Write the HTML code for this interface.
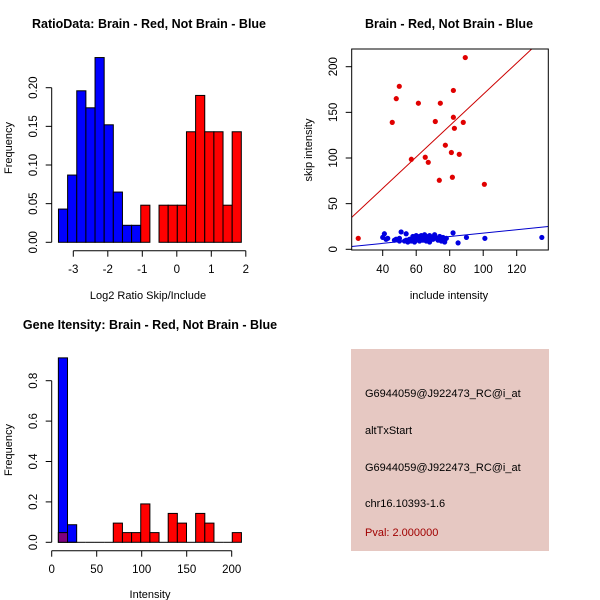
<!DOCTYPE html>
<html><head><meta charset="utf-8">
<style>
body{margin:0;background:#fff;}
svg{display:block;font-family:"Liberation Sans",Arial,sans-serif;}
text{fill:#000;}
</style></head>
<body>
<svg id="c" width="600" height="600" viewBox="0 0 600 600" xmlns="http://www.w3.org/2000/svg">
<rect width="600" height="600" fill="#fff"/>
<text x="149" y="28" font-size="12.5" font-weight="bold" text-anchor="middle">RatioData: Brain - Red, Not Brain - Blue</text>
<text x="449" y="28" font-size="12.5" font-weight="bold" text-anchor="middle">Brain - Red, Not Brain - Blue</text>
<text x="150" y="329" font-size="12.5" font-weight="bold" text-anchor="middle">Gene Itensity: Brain - Red, Not Brain - Blue</text>
<g id="p1"></g>
<g id="p2"></g>
<g id="p3"></g>
<g>
<rect x="351" y="349" width="198" height="202" fill="#E6C8C2"/>
<text x="365" y="397" font-size="11">G6944059@J922473_RC@i_at</text>
<text x="365" y="434" font-size="11">altTxStart</text>
<text x="365" y="471" font-size="11">G6944059@J922473_RC@i_at</text>
<text x="365" y="507" font-size="11">chr16.10393-1.6</text>
<text x="365" y="536" font-size="11" fill="#A00000" style="fill:#A00000">Pval: 2.000000</text>
</g>
</svg>
<script>
// ---- Panel 1 data
const ratioStart = -3.43;
const ratioWidth = 0.265;
const ratioBlue = [0.043,0.087,0.196,0.174,0.239,0.152,0.065,0.022,0.022];
const ratioRed = [0.048,0,0.048,0.048,0.048,0.143,0.190,0.143,0.143,0.048,0.143];
const ratioXTicks = [-3,-2,-1,0,1,2];
const ratioYTicks = [0,0.05,0.10,0.15,0.20];
const ratioYLabels = ["0.00","0.05","0.10","0.15","0.20"];
// ---- Panel 2 data
const redX = [25.4,45.7,48.1,49.9,57.1,61.3,65.4,67.2,71.4,73.8,74.4,77.4,81,81.6,82.2,82.2,82.8,85.7,88.1,89.3,100.7];
const redY = [12,139,165,178.5,98.6,160,100.8,95.3,140,75.6,160,114,106,78.9,144.6,174,132.5,104,139,210,71.2];
const blueX = [40,41,42,43,47,48,50,50,51,53,54,54,55,56,57,58,58,59,60,60,61,61,62,62,63,63,64,64,65,65,66,66,67,68,68,69,70,71,72,73,74,75,76,77,78,82,85,90,101,135];
const blueY = [13,17,11,12,10,11,12,9,19,9,17,10,8,11,9,12,14,8,10,15,11,13,9,14,12,15,10,13,11,16,9,14,12,8,15,13,11,16,12,10,14,9,13,8,12,18,7,13,12,13];
const redFit = [-1.9,1.716];
const blueFit = [-1.0,0.187];
const scXTicks = [40,60,80,100,120];
const scYTicks = [0,50,100,150,200];
// ---- Panel 3 data
const intStart = 7.4;
const intWidth = 10.17;
const intBlue = [0.913,0.087];
const intRed = [0.048,0,0,0,0,0,0.095,0.048,0.048,0.19,0.048,0,0.143,0.095,0,0.143,0.095,0,0,0.048];
const intXTicks = [0,50,100,150,200];
const intYTicks = [0,0.2,0.4,0.6,0.8];
const intYLabels = ["0.0","0.2","0.4","0.6","0.8"];

const NS="http://www.w3.org/2000/svg";
function mk(parent,tag,attrs){const e=document.createElementNS(NS,tag);for(const k in attrs)e.setAttribute(k,attrs[k]);parent.appendChild(e);return e;}

function axes(g,xs,ys,xT,xL,yT,yL,xAxisY,yAxisX,xLabY,yLabX){
  const xa=mk(g,'line',{x1:xs(xT[0]),x2:xs(xT[xT.length-1]),y1:xAxisY,y2:xAxisY,stroke:'#000'});
  
  
  xT.forEach((t,i)=>{
    mk(g,'line',{x1:xs(t),x2:xs(t),y1:xAxisY,y2:xAxisY+6,stroke:'#000'});
    const tx=mk(g,'text',{x:xs(t),y:xLabY,'font-size':11.5,'text-anchor':'middle'});
    tx.textContent=xL[i];
    
    
  });
  const ya=mk(g,'line',{x1:yAxisX,x2:yAxisX,y1:ys(yT[0]),y2:ys(yT[yT.length-1]),stroke:'#000'});
  
  
  yT.forEach((t,i)=>{
    mk(g,'line',{x1:yAxisX-6,x2:yAxisX,y1:ys(t),y2:ys(t),stroke:'#000'});
    const tx=mk(g,'text',{x:yLabX,y:ys(t),'font-size':11.5,'text-anchor':'middle',transform:`rotate(-90 ${yLabX} ${ys(t)})`});
    tx.textContent=yL[i];
    
    
  });
}
function label(g,txt,x,y,rot,name){
  const t=mk(g,'text',{x:x,y:y,'font-size':11,'text-anchor':'middle'});
  if(rot)t.setAttribute('transform',`rotate(-90 ${x} ${y})`);
  t.textContent=txt;
  
  
}

// Panel 1
(function(){
  const g=document.getElementById('p1');
  const xs=v=>73.3+(v+3)*34.5;
  const ys=v=>242.3-v*773;
  ratioBlue.forEach((v,i)=>{
    const x0=ratioStart+i*ratioWidth;
    const r=mk(g,'rect',{x:xs(x0),y:ys(v),width:ratioWidth*34.5,height:v*773,fill:'#0000FF',stroke:'#000','stroke-width':1});
    
    
  });
  ratioRed.forEach((v,i)=>{
    const x0=ratioStart+(i+ratioBlue.length)*ratioWidth;
    const r=mk(g,'rect',{x:xs(x0),y:ys(v),width:ratioWidth*34.5,height:v*773,fill:'#FF0000',stroke:'#000','stroke-width':1});
    
    
  });
  axes(g,xs,ys,ratioXTicks,ratioXTicks.map(String),ratioYTicks,ratioYLabels,250.7,51.7,273,37);
  label(g,'Log2 Ratio Skip/Include',148,299,false,'x-axis-title');
  label(g,'Frequency',12,148,true,'y-axis-title');
})();

// Panel 2
(function(){
  const g=document.getElementById('p2');
  const xs=v=>382.7+(v-40)*1.675;
  const ys=v=>249.3-v*0.913;
  const xmin=(351.7-382.7)/1.675+40, xmax=(548.3-382.7)/1.675+40;
  const clip=mk(g,'clipPath',{id:'cl2'});
  mk(clip,'rect',{x:351.7,y:49,width:196.6,height:201});
  [[redFit,'#CC0000','fit-line-red'],[blueFit,'#0000CC','fit-line-blue']].forEach(([f,c,n])=>{
    const l=mk(g,'line',{x1:xs(xmin),y1:ys(f[0]+f[1]*xmin),x2:xs(xmax),y2:ys(f[0]+f[1]*xmax),stroke:c,'stroke-width':1,'clip-path':'url(#cl2)'});
    
    
  });
  redX.forEach((x,i)=>{
    const p=mk(g,'circle',{cx:xs(x),cy:ys(redY[i]),r:2.6,fill:'#E00000'});
    
    
  });
  blueX.forEach((x,i)=>{
    const p=mk(g,'circle',{cx:xs(x),cy:ys(blueY[i]),r:2.6,fill:'#0000E0'});
    
    
  });
  const b=mk(g,'rect',{x:351.7,y:49,width:196.6,height:201,fill:'none',stroke:'#000'});
  
  
  scXTicks.forEach(t=>{
    mk(g,'line',{x1:xs(t),x2:xs(t),y1:250,y2:256,stroke:'#000'});
    const tx=mk(g,'text',{x:xs(t),y:273,'font-size':11.5,'text-anchor':'middle'});
    tx.textContent=String(t);
    
    
  });
  scYTicks.forEach(t=>{
    mk(g,'line',{x1:345.7,x2:351.7,y1:ys(t),y2:ys(t),stroke:'#000'});
    const tx=mk(g,'text',{x:337,y:ys(t),'font-size':11.5,'text-anchor':'middle',transform:`rotate(-90 337 ${ys(t)})`});
    tx.textContent=String(t);
    
    
  });
  label(g,'include intensity',449,299,false,'x-axis-title');
  label(g,'skip intensity',312,150,true,'y-axis-title');
})();

// Panel 3
(function(){
  const g=document.getElementById('p3');
  const xs=v=>51.7+v*0.9;
  const ys=v=>542.3-v*202;
  intBlue.forEach((v,i)=>{
    const x0=intStart+i*intWidth;
    const r=mk(g,'rect',{x:xs(x0),y:ys(v),width:intWidth*0.9,height:v*202,fill:'#0000FF',stroke:'#000'});
    
    
  });
  intRed.forEach((v,i)=>{
    const x0=intStart+i*intWidth;
    if(v===0){
      const l=mk(g,'line',{x1:xs(x0),x2:xs(x0+intWidth),y1:ys(0),y2:ys(0),stroke:'#000'});
      
      
      return;
    }
    const overlap=(intBlue[i]||0)>0;
    const r=mk(g,'rect',{x:xs(x0),y:ys(v),width:intWidth*0.9,height:v*202,fill:overlap?'#800080':'#FF0000',stroke:'#000'});
    
    
  });
  axes(g,xs,ys,intXTicks,intXTicks.map(String),intYTicks,intYLabels,550.7,51.7,573,37);
  label(g,'Intensity',150,598,false,'x-axis-title');
  label(g,'Frequency',12,450,true,'y-axis-title');
})();
</script>
</body></html>
